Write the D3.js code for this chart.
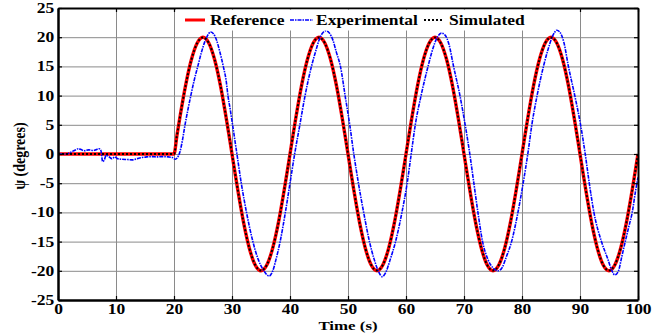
<!DOCTYPE html>
<html><head><meta charset="utf-8">
<script src="https://cdn.jsdelivr.net/npm/d3@7"></script>
<style>body{margin:0;background:#fff}svg{display:block}</style>
</head><body><svg id="c" width="665" height="334"></svg>
<script>
const xTicks=[0,10,20,30,40,50,60,70,80,90,100];
const yTicks=[-25,-20,-15,-10,-5,0,5,10,15,20,25];
const legendLabels=["Reference","Experimental","Simulated"];
const xTitle="Time (s)";
const yTitle="\u03c8 (degrees)";

const refTime=[0,20,20.5,21,22,23,24,25,26,27,28,29,30,31,32,33,34,35,36,37,38,39,
40,41,42,43,44,45,46,47,48,49,50,51,52,53,54,55,56,57,58,59,
60,61,62,63,64,65,66,67,68,69,70,71,72,73,74,75,76,77,78,79,
80,81,82,83,84,85,86,87,88,89,90,91,92,93,94,95,96,97,98,99,100];
const refValue=[0,0,3.13,6.18,11.76,16.18,19.02,20,19.02,16.18,11.76,6.18,0,-6.18,-11.76,-16.18,-19.02,-20,-19.02,-16.18,-11.76,-6.18,
0,6.18,11.76,16.18,19.02,20,19.02,16.18,11.76,6.18,0,-6.18,-11.76,-16.18,-19.02,-20,-19.02,-16.18,-11.76,-6.18,
0,6.18,11.76,16.18,19.02,20,19.02,16.18,11.76,6.18,0,-6.18,-11.76,-16.18,-19.02,-20,-19.02,-16.18,-11.76,-6.18,
0,6.18,11.76,16.18,19.02,20,19.02,16.18,11.76,6.18,0,-6.18,-11.76,-16.18,-19.02,-20,-19.02,-16.18,-11.76,-6.18,0];
const simValue=[0,0,3.1,6.15,11.7,16.15,19.0,19.95,19.0,16.2,11.8,6.2,0.05,-6.15,-11.75,-16.15,-19.0,-19.95,-19.0,-16.2,-11.8,-6.2,
0,6.15,11.75,16.15,19.0,19.95,19.0,16.2,11.8,6.2,0.05,-6.15,-11.75,-16.15,-19.0,-19.95,-19.0,-16.2,-11.8,-6.2,
0,6.15,11.75,16.15,19.0,19.95,19.0,16.2,11.8,6.2,0.05,-6.15,-11.75,-16.15,-19.0,-19.95,-19.0,-16.2,-11.8,-6.2,
0,6.15,11.75,16.15,19.0,19.95,19.0,16.2,11.8,6.2,0.05,-6.15,-11.75,-16.15,-19.0,-19.95,-19.0,-16.2,-11.8,-6.2,0];

const expTime=[0,0.8,1.5,2.2,3.0,3.5,4.0,4.5,5.3,6.1,6.6,7.1,7.4,7.7,7.95,8.3,8.7,9.3,9.8,10.3,11.0,12.0,12.8,13.6,14.5,15.3,16.2,17.0,18.0,19.0,19.7,20.2,20.6,
21.0,21.5,21.9,22.4,22.9,23.5,24.1,24.7,25.3,25.8,26.3,26.8,27.3,27.9,28.5,29.0,29.3,29.7,30.1,30.85,
31.6,32.5,33.6,34.5,35.5,36.4,37.0,37.6,38.3,39.2,40.0,40.8,41.7,42.6,43.7,44.4,45.2,45.7,46.2,46.8,47.4,48.0,48.7,49.5,50.3,51.0,
51.8,52.7,53.7,54.5,55.3,55.9,56.5,57.3,58.2,59.3,60.2,60.9,61.6,62.6,63.8,64.5,65.4,66.1,66.7,67.4,68.2,69.3,70.2,71.0,
71.7,72.4,73.2,74.1,75.0,75.9,76.6,77.3,78.2,79.3,80.2,81.0,81.7,82.6,83.7,84.4,85.2,85.6,86.0,86.5,87.2,88.0,89.1,90.1,90.9,
91.6,92.4,93.7,94.8,95.5,96.0,96.6,97.2,97.8,98.4,99.0,99.6,100];
const expValue=[0.1,0.0,0.0,0.3,0.7,0.9,0.75,0.55,0.7,0.6,0.75,0.9,0.6,-1.3,-1.1,-0.2,-0.4,-0.8,-0.5,-0.8,-0.9,-0.95,-1.0,-0.8,-0.6,-0.5,-0.45,-0.5,-0.45,-0.5,-0.6,-0.9,-0.6,
0.3,2.6,5.0,7.6,10.0,12.7,15.0,17.3,19.2,20.3,20.9,20.6,19.6,17.5,15.0,12.5,10.0,7.6,5.0,0.0,
-5.0,-10.0,-15.0,-18.0,-20.0,-20.9,-20.1,-18.0,-15.0,-10.0,-5.0,0.0,5.0,10.0,15.0,17.5,20.0,20.8,21.1,20.7,19.5,17.4,15.0,10.0,5.0,0.0,
-5.0,-10.0,-15.0,-18.0,-20.2,-21.0,-20.3,-18.0,-15.0,-10.0,-5.0,0.0,5.0,10.0,15.0,17.6,20.0,20.7,20.4,18.8,15.0,10.0,5.0,0.0,
-5.0,-10.0,-15.0,-18.0,-19.5,-20.0,-19.4,-17.6,-15.0,-10.0,-5.0,0.0,5.0,10.0,15.0,17.6,20.0,20.8,21.2,20.9,19.2,15.0,10.0,5.0,0.0,
-5.0,-10.0,-15.0,-18.0,-20.0,-20.7,-20.1,-17.6,-15.0,-12.5,-10.0,-6.2,-4.0];

const svg=d3.select("#c");
const L=58,R=638,T=8,B=300;
const x=d3.scaleLinear().domain([0,100]).range([L,R]);
const y=d3.scaleLinear().domain([-25,25]).range([B,T]);
const FONT="'Liberation Serif','Times New Roman',serif";
const SX=1.25;

// grid
svg.append("g").attr("transform",`translate(0,${B})`)
  .call(d3.axisBottom(x).tickValues(xTicks).tickSize(-(B-T)).tickFormat(""))
  .call(g=>{g.select(".domain").remove();g.selectAll("line").attr("stroke","#8a8a8a").attr("stroke-width",1);});
svg.append("g").attr("transform",`translate(${L},0)`)
  .call(d3.axisLeft(y).tickValues(yTicks).tickSize(-(R-L)).tickFormat(""))
  .call(g=>{g.select(".domain").remove();g.selectAll("line").attr("stroke","#8a8a8a").attr("stroke-width",1);});

// lines
svg.append("defs").append("clipPath").attr("id","clp").append("rect")
  .attr("x",L).attr("y",T).attr("width",R-L).attr("height",B-T);
const lineRef=d3.line().x((d,i)=>x(refTime[i])).y(d=>y(d)).curve(d3.curveMonotoneX);
const lineExp=d3.line().x((d,i)=>x(expTime[i])).y(d=>y(d)).curve(d3.curveMonotoneX);
const gl=svg.append("g").attr("clip-path","url(#clp)");
gl.append("path").attr("d",lineRef(refValue)).attr("fill","none").attr("stroke","#ff0000").attr("stroke-width",3.4);
gl.append("path").attr("d",lineExp(expValue)).attr("fill","none").attr("stroke","#0000ff").attr("stroke-width",1.6)
  .attr("stroke-dasharray","4,1,1.5,1");
gl.append("path").attr("d",lineRef(simValue)).attr("fill","none").attr("stroke","#000").attr("stroke-width",2)
  .attr("stroke-dasharray","2,2");

// axes frame with inward ticks
function styleAxis(g){g.select(".domain").attr("stroke","#000").attr("stroke-width",2.5);
  g.selectAll(".tick line").attr("stroke","#000").attr("stroke-width",1.2);}
const ax=svg.append("g").attr("transform",`translate(0,${B})`)
  .call(d3.axisBottom(x).tickValues(xTicks).tickSize(-4).tickSizeOuter(0).tickPadding(4).tickFormat(d=>String(d)))
  .call(styleAxis);
ax.selectAll("text").attr("font-family",FONT).attr("font-weight","bold").attr("font-size",14).attr("fill","#000")
  .attr("transform",`scale(${SX},1)`);
const ay=svg.append("g").attr("transform",`translate(${L},0)`)
  .call(d3.axisLeft(y).tickValues(yTicks).tickSize(-4).tickSizeOuter(0).tickPadding(3).tickFormat(d=>String(d)))
  .call(styleAxis);
ay.selectAll("text").attr("font-family",FONT).attr("font-weight","bold").attr("font-size",14).attr("fill","#000")
  .attr("transform",`scale(${SX},1)`);
svg.append("g").attr("transform",`translate(0,${T})`)
  .call(d3.axisTop(x).tickValues(xTicks).tickSize(-4).tickSizeOuter(0).tickFormat(""))
  .call(styleAxis).select(".domain").attr("stroke-width",2);
svg.append("g").attr("transform",`translate(${R},0)`)
  .call(d3.axisRight(y).tickValues(yTicks).tickSize(-4).tickSizeOuter(0).tickFormat(""))
  .call(styleAxis).select(".domain").attr("stroke-width",2);

// titles
svg.append("text").attr("transform",`translate(${(L+R)/2},329.5) scale(${SX},1)`).attr("text-anchor","middle")
  .attr("font-family",FONT).attr("font-weight","bold").attr("font-size",13.5).text(xTitle);
svg.append("text").attr("transform",`translate(25,156) scale(${SX},1) rotate(-90)`).attr("text-anchor","middle")
  .attr("font-family",FONT).attr("font-weight","bold").attr("font-size",14).text(yTitle);

// legend
const lg=svg.append("g");
lg.append("rect").attr("x",176).attr("y",9.5).attr("width",356).attr("height",21).attr("fill","#fff");
const items=[
  {x1:185,x2:205,tx:210,stroke:"#ff0000",w:3,dash:null},
  {x1:290,x2:313,tx:316,stroke:"#0000ff",w:1.6,dash:"4,1,1.5,1"},
  {x1:424,x2:444,tx:449,stroke:"#000",w:2,dash:"2,2"}];
items.forEach((it,i)=>{
  lg.append("line").attr("x1",it.x1).attr("x2",it.x2).attr("y1",20).attr("y2",20)
    .attr("stroke",it.stroke).attr("stroke-width",it.w).attr("stroke-dasharray",it.dash);
  lg.append("text").attr("transform",`translate(${it.tx},25) scale(${SX},1)`)
    .attr("font-family",FONT).attr("font-weight","bold").attr("font-size",14).text(legendLabels[i]);
});
</script></body></html>
